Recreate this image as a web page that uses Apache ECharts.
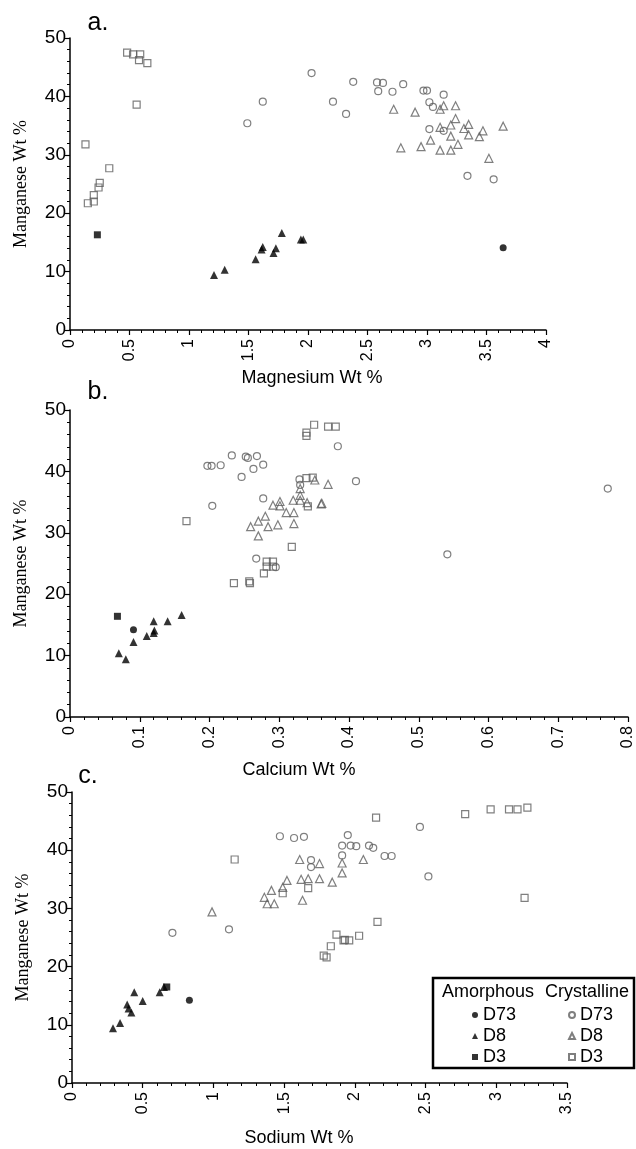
<!DOCTYPE html>
<html>
<head>
<meta charset="utf-8">
<script src="https://cdn.jsdelivr.net/npm/echarts@6.0.0/dist/echarts.min.js"></script>
<style>
  html, body { margin: 0; padding: 0; background: #fff; }
  #chart { width: 636px; height: 1149px; }
</style>
</head>
<body>
<div id="chart"></div>
<script>
// a. Manganese vs Magnesium (Wt %)
const mgAmD73 = [[3.64, 14.1]];
const mgAmD8 = [[1.21, 9.4], [1.30, 10.3], [1.56, 12.1], [1.61, 13.8], [1.62, 14.2],
  [1.71, 13.2], [1.73, 14.0], [1.78, 16.6], [1.94, 15.5], [1.96, 15.5]];
const mgAmD3 = [[0.23, 16.3]];
const mgCrD73 = [[1.49, 35.4], [1.62, 39.1], [2.03, 44.0], [2.21, 39.1], [2.38, 42.5],
  [2.32, 37.0], [2.58, 42.4], [2.63, 42.3], [2.59, 40.9], [2.71, 40.8], [2.80, 42.1],
  [2.97, 41.0], [3.00, 41.0], [3.14, 40.3], [3.02, 39.0], [3.05, 38.2], [3.02, 34.4],
  [3.14, 34.1], [3.34, 26.4], [3.56, 25.8]];
const mgCrD8 = [[2.72, 37.8], [2.90, 37.3], [3.11, 37.8], [3.14, 38.4], [3.24, 38.4],
  [3.24, 36.2], [3.20, 35.1], [3.11, 34.7], [3.31, 34.5], [3.35, 35.2], [3.35, 33.4],
  [3.20, 33.2], [3.47, 34.1], [3.44, 33.1], [3.64, 34.9], [3.03, 32.5], [3.26, 31.8],
  [2.95, 31.4], [2.78, 31.2], [3.11, 30.8], [3.20, 30.8], [3.52, 29.4]];
const mgCrD3 = [[0.48, 47.5], [0.53, 47.2], [0.59, 47.2], [0.58, 46.2], [0.65, 45.7],
  [0.56, 38.6], [0.13, 31.8], [0.33, 27.7], [0.25, 25.2], [0.24, 24.4], [0.20, 23.1],
  [0.15, 21.7], [0.20, 22.0]];

// b. Manganese vs Calcium (Wt %)
const caAmD73 = [[0.091, 14.2]];
const caAmD8 = [[0.070, 10.4], [0.080, 9.4], [0.091, 12.2], [0.110, 13.2], [0.120, 13.7],
  [0.121, 14.1], [0.120, 15.6], [0.140, 15.6], [0.160, 16.6]];
const caAmD3 = [[0.068, 16.4]];
const caCrD73 = [[0.197, 40.9], [0.203, 40.9], [0.216, 41.0], [0.204, 34.4], [0.232, 42.6],
  [0.246, 39.1], [0.252, 42.4], [0.255, 42.2], [0.268, 42.5], [0.263, 40.4], [0.277, 41.1],
  [0.277, 35.6], [0.267, 25.8], [0.295, 24.4], [0.329, 38.7], [0.330, 37.8], [0.384, 44.1],
  [0.410, 38.4], [0.541, 26.5], [0.771, 37.2]];
const caCrD8 = [[0.259, 31.0], [0.270, 31.9], [0.270, 29.5], [0.280, 32.7], [0.284, 31.0],
  [0.291, 34.5], [0.298, 31.3], [0.301, 35.1], [0.301, 34.4], [0.310, 33.3], [0.321, 33.3],
  [0.321, 31.5], [0.320, 35.3], [0.330, 35.3], [0.330, 37.2], [0.330, 36.1], [0.340, 34.9],
  [0.361, 34.8], [0.351, 38.6], [0.370, 37.9], [0.360, 34.7]];
const caCrD3 = [[0.167, 31.9], [0.235, 21.8], [0.257, 22.1], [0.258, 21.8], [0.278, 23.4],
  [0.282, 25.3], [0.282, 24.5], [0.291, 25.3], [0.291, 24.5], [0.318, 27.7], [0.339, 38.9],
  [0.348, 39.0], [0.339, 46.3], [0.339, 45.8], [0.350, 47.6], [0.370, 47.3], [0.381, 47.3],
  [0.341, 34.3]];

// c. Manganese vs Sodium (Wt %)
const naAmD73 = [[0.83, 14.2]];
const naAmD8 = [[0.29, 9.4], [0.34, 10.3], [0.39, 13.5], [0.40, 12.8], [0.42, 12.1],
  [0.44, 15.6], [0.50, 14.1], [0.62, 15.6], [0.65, 16.5]];
const naAmD3 = [[0.67, 16.5]];
const naCrD73 = [[0.71, 25.8], [1.11, 26.4], [1.47, 42.4], [1.57, 42.1], [1.64, 42.3],
  [1.69, 38.3], [1.69, 37.1], [1.91, 39.1], [1.95, 42.6], [1.91, 40.8], [1.97, 40.8],
  [2.01, 40.7], [2.10, 40.8], [2.13, 40.4], [2.21, 39.0], [2.26, 39.0], [2.46, 44.0],
  [2.52, 35.5]];
const naCrD8 = [[0.99, 29.4], [1.36, 31.9], [1.38, 30.8], [1.41, 33.1], [1.43, 30.8],
  [1.49, 33.6], [1.52, 34.8], [1.61, 38.4], [1.62, 35.0], [1.63, 31.4], [1.67, 35.1],
  [1.75, 37.7], [1.75, 35.1], [1.84, 34.5], [1.91, 37.8], [1.91, 36.1], [2.06, 38.4]];
const naCrD3 = [[1.15, 38.4], [1.49, 32.6], [1.67, 33.5], [1.78, 21.9], [1.80, 21.6],
  [1.83, 23.5], [1.87, 25.5], [1.92, 24.5], [1.93, 24.6], [1.96, 24.5], [2.03, 25.3],
  [2.15, 45.6], [2.16, 27.7], [2.78, 46.2], [2.96, 47.0], [3.09, 47.0], [3.15, 47.0],
  [3.22, 47.3], [3.20, 31.8]];

const SANS = "'Liberation Sans', Arial, sans-serif";
const SERIF = "'Liberation Serif', 'Times New Roman', serif";
const GREY = "#5f5f5f";

const groups = [
  { name: "Amorphous D73", symbol: "circle", size: 7, hollow: false },
  { name: "Amorphous D8", symbol: "triangle", size: 8, hollow: false },
  { name: "Amorphous D3", symbol: "rect", size: 7, hollow: false },
  { name: "Crystalline D73", symbol: "circle", size: 7, hollow: true },
  { name: "Crystalline D8", symbol: "triangle", size: 8, hollow: true },
  { name: "Crystalline D3", symbol: "rect", size: 7, hollow: true },
];

const panelSeries = (idx, sets) =>
  groups.map((g, i) => ({
    name: g.name,
    type: "scatter",
    xAxisIndex: idx,
    yAxisIndex: idx,
    symbol: g.symbol,
    symbolSize: g.size,
    itemStyle: g.hollow
      ? { color: "transparent", borderColor: GREY, borderWidth: 1.2 }
      : { color: "#000" },
    emphasis: { disabled: true },
    data: sets[i],
  }));

const axisLine = { show: true, onZero: false, lineStyle: { color: "#000", width: 1.5 } };

const xAxisOf = (idx, max, step) => ({
  type: "value",
  gridIndex: idx,
  min: 0,
  max,
  interval: step,
  axisLine,
  axisTick: { show: true, length: 5, lineStyle: { color: "#000", width: 1.2 } },
  minorTick: { show: true, splitNumber: 5, length: 3, lineStyle: { color: "#000", width: 1 } },
  splitLine: { show: false },
  axisLabel: { rotate: 90, margin: 9, fontSize: 16, fontFamily: SANS, color: "#000" },
});

const yAxisOf = (idx) => ({
  type: "value",
  gridIndex: idx,
  min: 0,
  max: 50,
  interval: 10,
  name: "Manganese Wt %",
  nameLocation: "middle",
  nameGap: 40,
  nameTextStyle: { fontFamily: SERIF, fontSize: 18, color: "#000" },
  axisLine,
  axisTick: { show: true, length: 6, lineStyle: { color: "#000", width: 1.2 } },
  minorTick: { show: true, splitNumber: 5, length: 3, lineStyle: { color: "#000", width: 1 } },
  splitLine: { show: false },
  axisLabel: { margin: 4, fontSize: 19, fontFamily: SANS, color: "#000" },
});

const title = (text, x, y, size) => ({
  type: "text",
  x,
  y,
  style: { text, font: `${size}px ${SANS}`, fill: "#000", textAlign: "center", textVerticalAlign: "middle" },
});

const legendOf = (left, names) => ({
  orient: "vertical",
  left,
  top: 1000,
  itemWidth: 6,
  itemHeight: 6,
  itemGap: 1,
  selectedMode: false,
  data: names,
  formatter: (n) => n.split(" ")[1],
  textStyle: { fontSize: 18, fontFamily: SANS, color: "#000", lineHeight: 20 },
});

const chart = echarts.init(document.getElementById("chart"), null, { renderer: "canvas" });

chart.setOption({
  backgroundColor: "#fff",
  animation: false,
  grid: [
    { left: 70, top: 38, width: 476, height: 292 },
    { left: 70, top: 410, width: 564, height: 307 },
    { left: 72, top: 792, width: 495, height: 291 },
  ],
  xAxis: [xAxisOf(0, 4, 0.5), xAxisOf(1, 0.8, 0.1), xAxisOf(2, 3.5, 0.5)],
  yAxis: [yAxisOf(0), yAxisOf(1), yAxisOf(2)],
  legend: [
    legendOf(467, groups.slice(0, 3).map((g) => g.name)),
    legendOf(563, groups.slice(3).map((g) => g.name)),
  ],
  graphic: [
    title("a.", 98, 23, 25),
    title("b.", 98, 392, 25),
    title("c.", 88, 776, 25),
    title("Magnesium Wt %", 312, 378, 18),
    title("Calcium Wt %", 299, 770, 18),
    title("Sodium Wt %", 299, 1138, 18),
    {
      type: "rect",
      z: -1,
      shape: { x: 433, y: 978, width: 201, height: 90 },
      style: { fill: "#fff", stroke: "#000", lineWidth: 2.5 },
    },
    {
      type: "text", x: 442, y: 992,
      style: { text: "Amorphous", font: `18px ${SANS}`, fill: "#000", textVerticalAlign: "middle" },
    },
    {
      type: "text", x: 545, y: 992,
      style: { text: "Crystalline", font: `18px ${SANS}`, fill: "#000", textVerticalAlign: "middle" },
    },
  ],
  series: [
    ...panelSeries(0, [mgAmD73, mgAmD8, mgAmD3, mgCrD73, mgCrD8, mgCrD3]),
    ...panelSeries(1, [caAmD73, caAmD8, caAmD3, caCrD73, caCrD8, caCrD3]),
    ...panelSeries(2, [naAmD73, naAmD8, naAmD3, naCrD73, naCrD8, naCrD3]),
  ],
});
</script>
</body>
</html>
